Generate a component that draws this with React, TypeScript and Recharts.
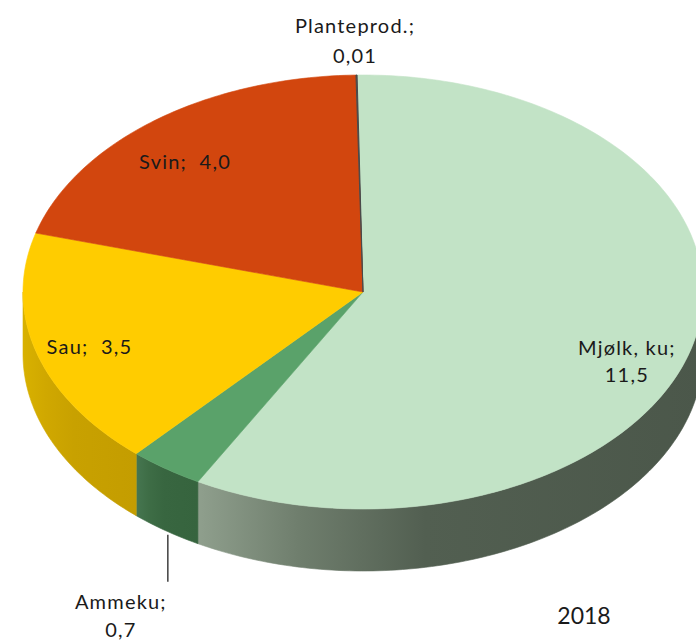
import React from 'react';
import { PieChart, Pie, Cell } from 'recharts';

// ---- data ----
const categories = ['Mjølk, ku', 'Ammeku', 'Sau', 'Svin', 'Planteprod.'];
const values = [11.5, 0.7, 3.5, 4.0, 0.01];
const valueLabels = ['11,5', '0,7', '3,5', '4,0', '0,01'];
const yearLabel = '2018';

// ---- styles ----
const topColors = ['#c2e3c6', '#5aa26a', '#ffcc00', '#d2460e', '#4a4a4a'];
const sideStops: string[][] = [
  ['#8f9f8d', '#6f7e6d', '#525f51', '#4b574a'],
  ['#467650', '#3e6d46', '#386640', '#36643e'],
  ['#d8b100', '#d0a800', '#c8a100', '#c49d00'],
  ['#b43a08', '#a83508', '#9e3107', '#982f07'],
  ['#333333', '#333333', '#333333', '#333333'],
];

// label layout relative to the slice's rim point at its mid angle
const labelLayout = [
  { dx: -66, dy: 2.5, split: true, gap: 27 },
  { dx: -45, dy: 132, split: true, gap: 28, leader: true },
  { dx: 53, dy: -7, split: false, gap: 0 },
  { dx: 30, dy: 41, split: false, gap: 0 },
  { dx: -1.5, dy: -50, split: true, gap: 30 },
];

const W = 696;
const H = 641;
const CX = 363;
const CY = 292;
const R = 340;
const TILT = 217 / 340;
const DEPTH = 62;
const RAD = Math.PI / 180;
const FONT = 'Lato, "Open Sans", sans-serif';

const data = categories.map((name, i) => ({ name, value: values[i], label: valueLabels[i] }));

const pt = (cx: number, cy: number, r: number, deg: number): [number, number] => [
  cx + r * Math.cos(deg * RAD),
  cy - r * TILT * Math.sin(deg * RAD),
];

const idxOf = (props: any): number => {
  const name = props?.payload?.name ?? props?.name;
  const i = categories.indexOf(name);
  return i < 0 ? 0 : i;
};

function TopSector(props: any) {
  const { cx, cy, outerRadius, startAngle, endAngle } = props;
  const i = idxOf(props);
  const a0 = Math.min(startAngle, endAngle);
  const a1 = Math.max(startAngle, endAngle);
  const n = Math.max(2, Math.ceil(a1 - a0) + 1);
  let d = `M${cx},${cy}`;
  for (let k = 0; k < n; k++) {
    const a = a0 + ((a1 - a0) * k) / (n - 1);
    const [x, y] = pt(cx, cy, outerRadius, a);
    d += ` L${x.toFixed(2)},${y.toFixed(2)}`;
  }
  d += ' Z';
  const thin = a1 - a0 < 1;
  return (
    <path
      d={d}
      fill={topColors[i]}
      stroke={topColors[i]}
      strokeWidth={thin ? 1 : 0.6}
      strokeLinejoin="round"
    />
  );
}

function SideSector(props: any) {
  const { cx, cy, outerRadius, startAngle, endAngle } = props;
  const i = idxOf(props);
  const a0 = Math.min(startAngle, endAngle);
  const a1 = Math.max(startAngle, endAngle);
  const pieces: [number, number][] = [];
  for (let k = -2; k <= 2; k++) {
    const lo = Math.max(a0, -180 + 360 * k);
    const hi = Math.min(a1, 360 * k);
    if (hi > lo) pieces.push([lo, hi]);
  }
  if (!pieces.length) return <g />;
  return (
    <g>
      {pieces.map(([lo, hi], p) => {
        const n = Math.max(2, Math.ceil(hi - lo) + 1);
        const top: string[] = [];
        const bot: string[] = [];
        let minX = Infinity;
        let maxX = -Infinity;
        for (let k = 0; k < n; k++) {
          const a = lo + ((hi - lo) * k) / (n - 1);
          const [x, y] = pt(cx, cy, outerRadius, a);
          minX = Math.min(minX, x);
          maxX = Math.max(maxX, x);
          top.push(`${x.toFixed(2)},${y.toFixed(2)}`);
          bot.unshift(`${x.toFixed(2)},${(y + DEPTH).toFixed(2)}`);
        }
        const gid = `side-grad-${i}-${p}`;
        const st = sideStops[i];
        return (
          <g key={p}>
            <defs>
              <linearGradient id={gid} gradientUnits="userSpaceOnUse" x1={minX} y1={0} x2={maxX} y2={0}>
                <stop offset="0" stopColor={st[0]} />
                <stop offset="0.2" stopColor={st[1]} />
                <stop offset="0.45" stopColor={st[2]} />
                <stop offset="1" stopColor={st[3]} />
              </linearGradient>
            </defs>
            <path
              d={`M${top.join(' L')} L${bot.join(' L')} Z`}
              fill={`url(#${gid})`}
              stroke={`url(#${gid})`}
              strokeWidth={0.6}
            />
          </g>
        );
      })}
    </g>
  );
}

function renderLabel(props: any) {
  const { cx, cy, outerRadius, midAngle } = props;
  const i = idxOf(props);
  const lay = labelLayout[i];
  const [ax, ay] = pt(cx, cy, outerRadius, midAngle);
  const x = ax + lay.dx;
  const y = ay + lay.dy;
  const textStyle: React.CSSProperties = { whiteSpace: 'pre' };
  const common = {
    fontFamily: FONT,
    fontSize: 20,
    letterSpacing: 1.2,
    fill: '#1a1a1a',
    textAnchor: 'middle' as const,
    dominantBaseline: 'central' as const,
    style: textStyle,
  };
  return (
    <g key={`lbl-${i}`}>
      {lay.leader && (
        <line x1={ax + 2} y1={ay + DEPTH + 4} x2={ax + 2} y2={ay + 113} stroke="#222" strokeWidth={1.3} />
      )}
      {lay.split ? (
        <>
          <text x={x} y={y} {...common}>{`${categories[i]};`}</text>
          <text x={x} y={y + lay.gap} {...common}>{valueLabels[i]}</text>
        </>
      ) : (
        <text x={x} y={y} {...common}>{`${categories[i]};  ${valueLabels[i]}`}</text>
      )}
    </g>
  );
}

export default function App() {
  return (
    <div style={{ position: 'absolute', left: 0, top: 0, width: W, height: H, background: '#fff' }}>
      <PieChart width={W} height={H} margin={{ top: 0, right: 0, bottom: 0, left: 0 }}>
        <Pie
          data={data}
          dataKey="value"
          nameKey="name"
          cx={CX}
          cy={CY}
          innerRadius={0}
          outerRadius={R}
          startAngle={91}
          endAngle={-269}
          isAnimationActive={false}
          inactiveShape={SideSector}
          activeShape={SideSector}
          shape={SideSector}
          stroke="none"
          labelLine={false}
        >
          {data.map((d, i) => (
            <Cell key={d.name} fill={sideStops[i][2]} />
          ))}
        </Pie>
        <Pie
          data={data}
          dataKey="value"
          nameKey="name"
          cx={CX}
          cy={CY}
          innerRadius={0}
          outerRadius={R}
          startAngle={91}
          endAngle={-269}
          isAnimationActive={false}
          inactiveShape={TopSector}
          activeShape={TopSector}
          shape={TopSector}
          stroke="none"
          label={renderLabel}
          labelLine={false}
        >
          {data.map((d, i) => (
            <Cell key={d.name} fill={topColors[i]} />
          ))}
        </Pie>
        <text
          x={584}
          y={615}
          fontFamily={FONT}
          fontSize={23}
          fill="#1a1a1a"
          textAnchor="middle"
          dominantBaseline="central"
        >
          {yearLabel}
        </text>
      </PieChart>
    </div>
  );
}
